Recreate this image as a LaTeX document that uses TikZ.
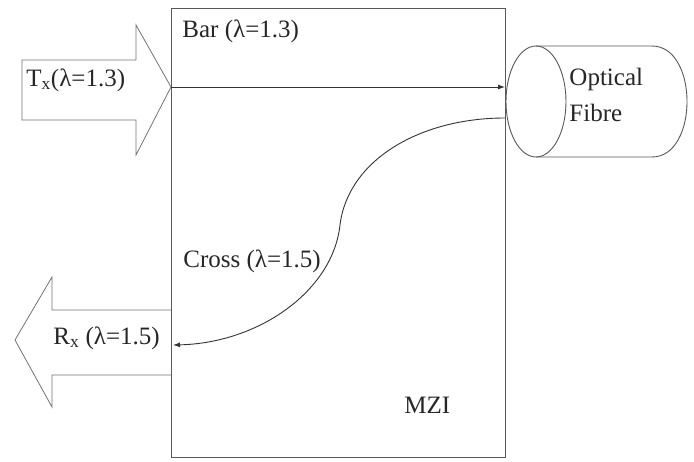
\documentclass[tikz,border=0pt]{standalone}
\usepackage{fontspec}
\setmainfont{Liberation Serif}
\usetikzlibrary{arrows.meta,calc,positioning}
\tikzset{
	mzi diagram/.style={
		x=1pt, y=-1pt,
		line width=0.9pt,
		every node/.style={font=\fontsize{25}{29}\selectfont, inner sep=0pt, text=black!85},
		},
	frame/.style={draw=black!65},
	blockarrow/.style={draw=black!55, line width=0.8pt, line join=miter},
	sig/.style={draw=black!80, -{Latex[length=7pt,width=5pt]}},
	lbl/.style={anchor=base west},
}

\begin{document}
\begin{tikzpicture}[mzi diagram]
	\useasboundingbox (0,0) rectangle (694,461);
	% MZI block
	\draw[frame] (171,8) coordinate (mzi nw) rectangle (505,457) coordinate (mzi se);
	\node[lbl] (mzi) at (404,413) {MZI};
	% transmitter arrow
	\draw[blockarrow] (22,60) -- (136,60) -- (136,25) -- (171,87) coordinate (tx tip)
		-- (136,155) -- (136,120) -- (22,120) -- cycle;
	\node[lbl] (tx) at (26,86) {T\textsubscript{x}(λ=1.3)};
	% receiver arrow
	\draw[blockarrow] (171,310) coordinate (rx top) -- (52,310) -- (52,277) -- (15,340)
		-- (52,407) -- (52,375) -- (171,375) coordinate (rx bot);
	\node[lbl] (rx) at (53,344) {R\textsubscript{x} (λ=1.5)};
	% fibre
	\coordinate (fib c) at (536,101.5);
	\draw[frame] (fib c) ellipse [x radius=30, y radius=55.5];
	\draw[frame] (536,46) -- (652,46) .. controls (698.7,46) and (698.7,157) .. (652,157)
		-- (536,157);
	\node[lbl] (fibre) at (569,85) {Optical};
	\node[lbl] (fibre2) at (569,121) {Fibre};
	% paths
	\coordinate (bar out) at (505,87);
	\coordinate (cross in) at (505,118);
	\coordinate (cross out) at (173,345);
	\draw[sig] (tx tip) -- (bar out);
	\draw[sig] (cross in) .. controls (420,118) and (348,160) .. (340,225)
		.. controls (333,290) and (260,343) .. (cross out);
	\node[lbl] (bar) at (182,37) {Bar (λ=1.3)};
	\node[lbl] (cross) at (183,267) {Cross (λ=1.5)};
\end{tikzpicture}
\end{document}
